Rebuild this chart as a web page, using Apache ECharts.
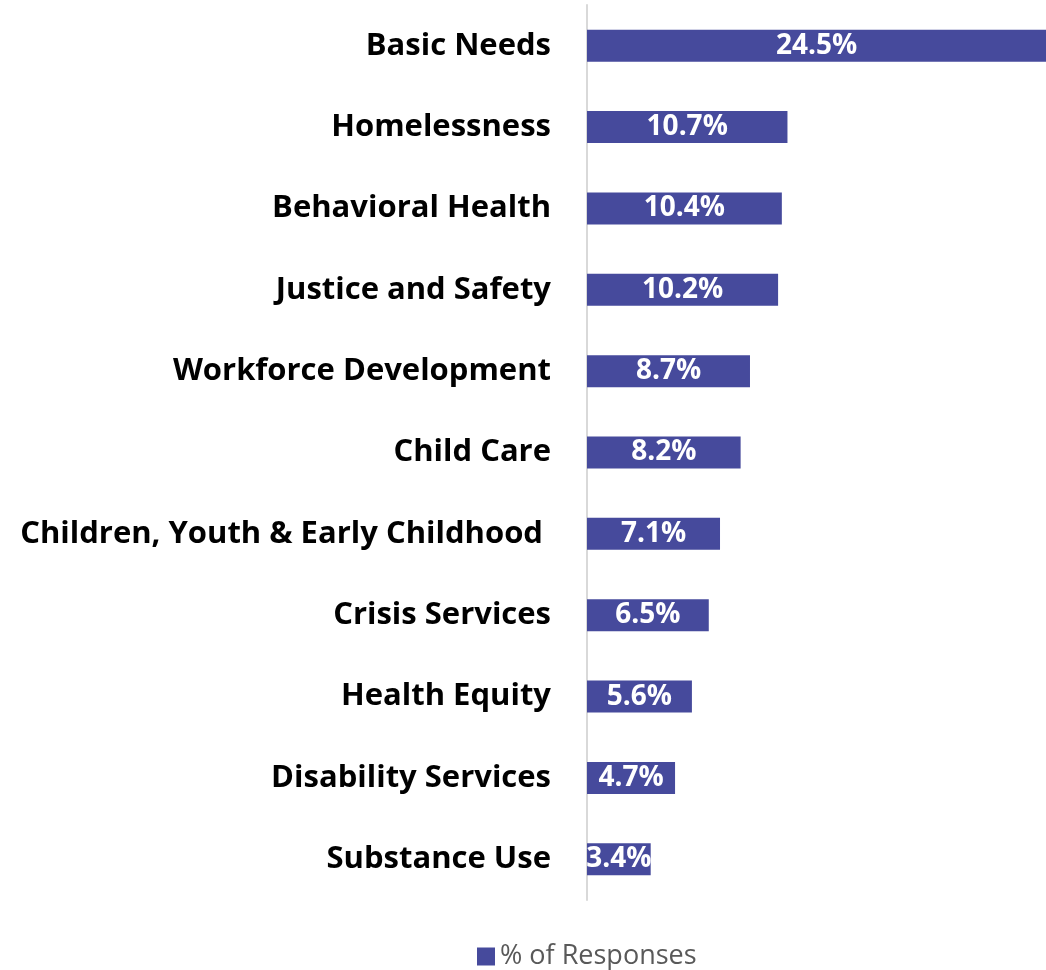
<!DOCTYPE html>
<html>
<head>
<meta charset="utf-8">
<script src="https://cdn.jsdelivr.net/npm/echarts@6/dist/echarts.min.js"></script>
<style>
  html, body { margin: 0; padding: 0; background: #fff; }
  #chart { width: 1046px; height: 970px; }
</style>
</head>
<body>
<div id="chart"></div>
<script>
// 类别与数值
var categories = [
    'Basic Needs',
    'Homelessness',
    'Behavioral Health',
    'Justice and Safety',
    'Workforce Development',
    'Child Care',
    'Children, Youth & Early Childhood ',
    'Crisis Services',
    'Health Equity',
    'Disability Services',
    'Substance Use'
];
var responses = [24.5, 10.7, 10.4, 10.2, 8.7, 8.2, 7.1, 6.5, 5.6, 4.7, 3.4];
var seriesName = '% of Responses';

var myChart = echarts.init(document.getElementById('chart'));

var option = {
    animation: false,
    legend: {
        top: 938,
        left: 472,
        itemWidth: 18,
        itemHeight: 18,
        itemGap: 10,
        icon: 'rect',
        textStyle: {
            fontFamily: 'Open Sans',
            fontSize: 27,
            color: '#595959'
        },
        data: [seriesName]
    },
    grid: {
        left: 587,
        right: 0,
        top: 5,
        bottom: 70,
        containLabel: false
    },
    xAxis: {
        type: 'value',
        min: 0,
        max: 24.5,
        show: false
    },
    yAxis: {
        type: 'category',
        data: categories,
        inverse: true,
        axisLine: { show: true, lineStyle: { color: '#d9d9d9', width: 2 } },
        axisTick: { show: false },
        axisLabel: {
            margin: 36,
            color: '#000',
            fontFamily: 'Open Sans',
            fontWeight: 'bold',
            fontSize: 31
        }
    },
    series: [
        {
            name: seriesName,
            type: 'bar',
            data: responses,
            barWidth: 32,
            itemStyle: { color: '#464a9c' },
            label: {
                show: true,
                position: 'inside',
                color: '#fff',
                fontFamily: 'Open Sans',
                fontWeight: 'bold',
                fontSize: 28,
                formatter: function (p) { return p.value.toFixed(1) + '%'; }
            }
        }
    ]
};

myChart.setOption(option);
</script>
</body>
</html>
